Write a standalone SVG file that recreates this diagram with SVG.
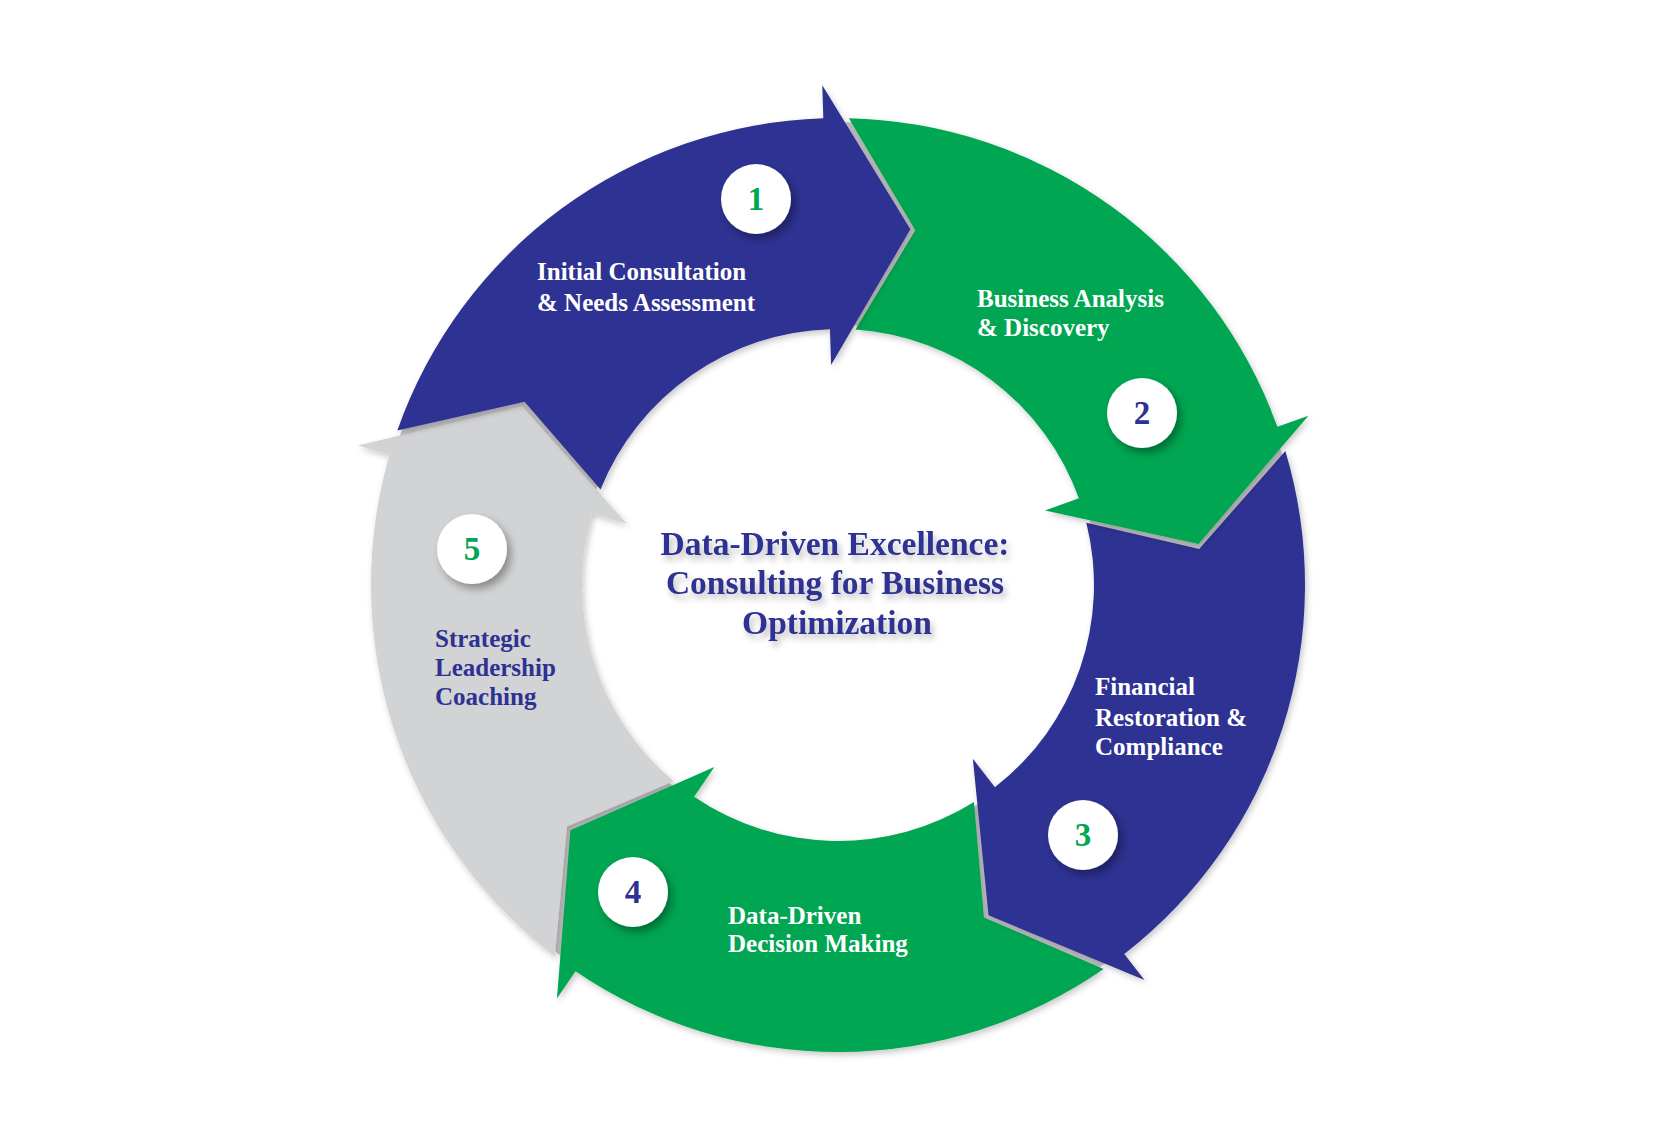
<svg xmlns="http://www.w3.org/2000/svg" xmlns:xlink="http://www.w3.org/1999/xlink" width="1667" height="1136" viewBox="0 0 1667 1136">
<defs>
<style>
.blue{fill:#2e3192}
.green{fill:#00a651}
.gray{fill:#d1d3d4}
.lbl{font-family:"Liberation Serif","Times New Roman",serif;font-weight:bold;font-size:25px}
.w{fill:#ffffff}
.b{fill:#2e3192}
.num{font-family:"Liberation Serif","Times New Roman",serif;font-weight:bold;font-size:33px;text-anchor:middle}
.title{font-family:"Liberation Serif","Times New Roman",serif;font-weight:bold;font-size:33.5px;fill:#2e3192;text-anchor:middle}
.badge{fill:#ffffff}
</style>
<filter id="segShadow" x="-10%" y="-10%" width="120%" height="120%">
<feDropShadow dx="2" dy="3" stdDeviation="3" flood-color="#000000" flood-opacity="0.22"/>
</filter>
<filter id="badgeShadow" x="-40%" y="-40%" width="180%" height="180%">
<feDropShadow dx="4" dy="5" stdDeviation="4" flood-color="#000000" flood-opacity="0.35"/>
</filter>
<filter id="titleShadow" x="-10%" y="-30%" width="120%" height="160%">
<feDropShadow dx="3" dy="5" stdDeviation="3" flood-color="#000000" flood-opacity="0.25"/>
</filter>
<path id="seg" d="M 397.34 430.42 A 467 467 0 0 1 823.33 118.23 L 822.29 85.25 L 910.37 229.29 L 831.09 365.11 L 829.96 329.13 A 256 256 0 0 0 600.51 489.43 L 524.58 401.86 Z"/>
</defs>
<rect width="1667" height="1136" fill="#ffffff"/>
<g id="connectors">
<circle cx="838" cy="585" r="361.5" fill="none" stroke="#c6c6c8" stroke-width="203"/>
</g>
<g id="step5" filter="url(#segShadow)">
<use xlink:href="#seg" class="gray" transform="rotate(288 838 585)"/>
</g>
<g id="step4" filter="url(#segShadow)">
<use xlink:href="#seg" class="green" transform="rotate(216 838 585)"/>
</g>
<g id="step3" filter="url(#segShadow)">
<use xlink:href="#seg" class="blue" transform="rotate(144 838 585)"/>
</g>
<g id="step2" filter="url(#segShadow)">
<use xlink:href="#seg" class="green" transform="rotate(72 838 585)"/>
</g>
<g id="step1" filter="url(#segShadow)">
<use xlink:href="#seg" class="blue"/>
</g>
<g id="label1">
<text class="lbl w" x="537" y="280">Initial Consultation</text>
<text class="lbl w" x="537" y="311">&amp; Needs Assessment</text>
</g>
<g id="label2">
<text class="lbl w" x="977" y="306.5">Business Analysis</text>
<text class="lbl w" x="977" y="336">&amp; Discovery</text>
</g>
<g id="label3">
<text class="lbl w" x="1095" y="695">Financial</text>
<text class="lbl w" x="1095" y="725.5">Restoration &amp;</text>
<text class="lbl w" x="1095" y="755">Compliance</text>
</g>
<g id="label4">
<text class="lbl w" x="728" y="924">Data-Driven</text>
<text class="lbl w" x="728" y="952">Decision Making</text>
</g>
<g id="label5">
<text class="lbl b" x="435" y="647">Strategic</text>
<text class="lbl b" x="435" y="676">Leadership</text>
<text class="lbl b" x="435" y="705">Coaching</text>
</g>
<g id="badge1">
<circle class="badge" cx="756" cy="199" r="35" filter="url(#badgeShadow)"/>
<text class="num" x="756" y="210" fill="#00a651">1</text>
</g>
<g id="badge2">
<circle class="badge" cx="1142" cy="413" r="35" filter="url(#badgeShadow)"/>
<text class="num" x="1142" y="424" fill="#2e3192">2</text>
</g>
<g id="badge3">
<circle class="badge" cx="1083" cy="835" r="35" filter="url(#badgeShadow)"/>
<text class="num" x="1083" y="846" fill="#00a651">3</text>
</g>
<g id="badge4">
<circle class="badge" cx="633" cy="892" r="35" filter="url(#badgeShadow)"/>
<text class="num" x="633" y="903" fill="#2e3192">4</text>
</g>
<g id="badge5">
<circle class="badge" cx="472" cy="549" r="35" filter="url(#badgeShadow)"/>
<text class="num" x="472" y="560" fill="#00a651">5</text>
</g>
<g id="title" filter="url(#titleShadow)">
<text class="title" x="835" y="555">Data-Driven Excellence:</text>
<text class="title" x="835" y="594">Consulting for Business</text>
<text class="title" x="837" y="634">Optimization</text>
</g>
</svg>
